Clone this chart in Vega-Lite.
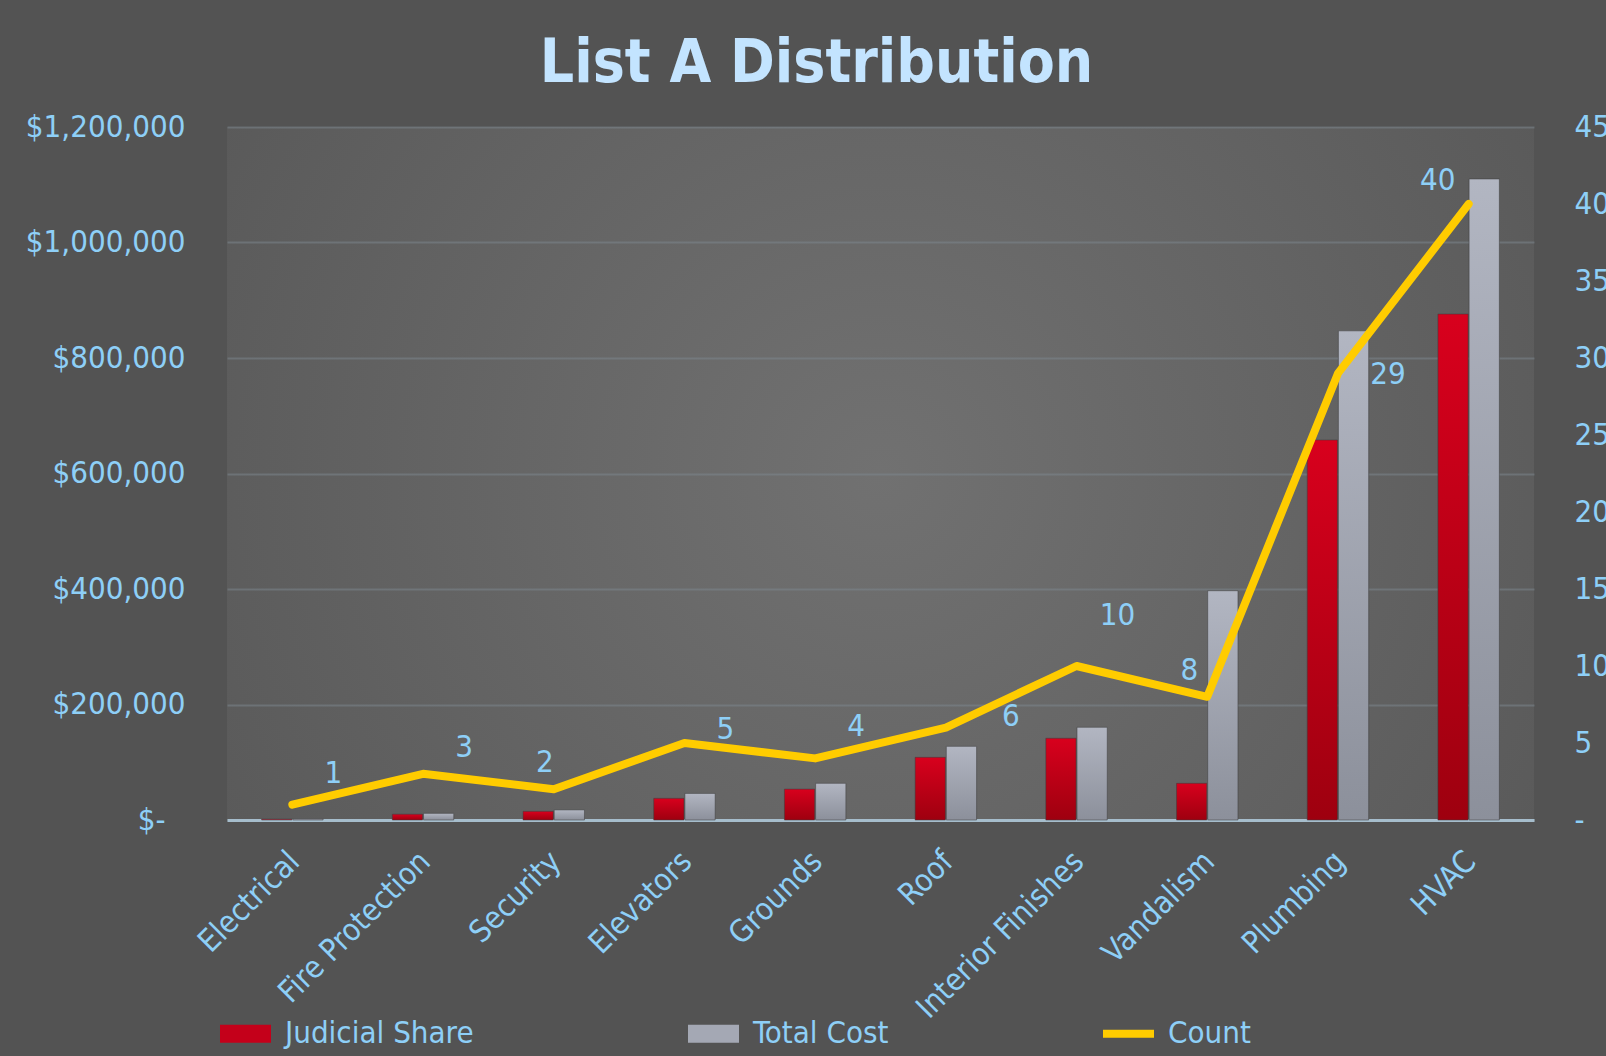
{
  "$schema": "https://vega.github.io/schema/vega-lite/v6.json",
  "width": 1307,
  "height": 693,
  "autosize": {"type": "none"},
  "padding": {"left": 227, "top": 127, "right": 72, "bottom": 236},
  "background": "#535353",
  "title": {
    "text": "List A Distribution",
    "font": "DejaVu Sans Condensed, Liberation Sans",
    "fontSize": 60,
    "fontWeight": "bold",
    "color": "#C3E4FF",
    "anchor": "middle",
    "baseline": "alphabetic",
    "dx": -64,
    "dy": 59,
    "offset": 28
  },
  "data": {
    "values": [
      {"Category": "Electrical", "Judicial Share": 1500, "Total Cost": 2000, "Count": 1},
      {"Category": "Fire Protection", "Judicial Share": 10000, "Total Cost": 11500, "Count": 3},
      {"Category": "Security", "Judicial Share": 15000, "Total Cost": 17500, "Count": 2},
      {"Category": "Elevators", "Judicial Share": 37500, "Total Cost": 46000, "Count": 5},
      {"Category": "Grounds", "Judicial Share": 53500, "Total Cost": 63500, "Count": 4},
      {"Category": "Roof", "Judicial Share": 108500, "Total Cost": 127500, "Count": 6},
      {"Category": "Interior Finishes", "Judicial Share": 141500, "Total Cost": 160500, "Count": 10},
      {"Category": "Vandalism", "Judicial Share": 63500, "Total Cost": 397000, "Count": 8},
      {"Category": "Plumbing", "Judicial Share": 658000, "Total Cost": 847000, "Count": 29},
      {"Category": "HVAC", "Judicial Share": 876000, "Total Cost": 1110000, "Count": 40}
    ]
  },
  "encoding": {
    "x": {
      "field": "Category",
      "type": "nominal",
      "sort": null,
      "scale": {"paddingInner": 0.53, "paddingOuter": 0.265},
      "axis": {
        "title": null,
        "labelAngle": -45,
        "labelFontSize": 31,
        "labelColor": "#8ECFF7",
        "labelPadding": 26,
        "labelOffset": -8,
        "ticks": false,
        "domainColor": "#A6BDCC",
        "domainWidth": 3,
        "grid": false,
        "labelLimit": 0
      }
    }
  },
  "layer": [
    {
      "transform": [
        {"fold": ["Judicial Share", "Total Cost"], "as": ["Series", "Amount"]}
      ],
      "encoding": {
        "xOffset": {
          "field": "Series",
          "type": "nominal",
          "scale": {"domain": ["Judicial Share", "Total Cost"], "paddingInner": 0.03}
        },
        "y": {
          "field": "Amount",
          "type": "quantitative",
          "scale": {"domain": [0, 1200000], "nice": false},
          "axis": {
            "orient": "left",
            "title": null,
            "values": [0, 200000, 400000, 600000, 800000, 1000000, 1200000],
            "labelExpr": "datum.value == 0 ? '$-' : '$' + format(datum.value, ',')",
            "labelFontSize": 31,
            "labelColor": "#8ECFF7",
            "labelPadding": {"condition": {"test": "datum.value == 0", "value": 62}, "value": 42},
            "ticks": false,
            "domain": false,
            "grid": true,
            "gridColor": "#7E8890",
            "gridOpacity": 0.5,
            "gridWidth": 2
          }
        }
      },
      "layer": [
        {
          "transform": [{"filter": "datum.Series == 'Judicial Share'"}],
          "mark": {
            "type": "bar",
            "stroke": "#3c3c3c",
            "strokeWidth": 1,
            "strokeOpacity": 0.5,
            "fill": {
              "gradient": "linear", "x1": 0, "y1": 0, "x2": 0, "y2": 1,
              "stops": [{"offset": 0, "color": "#D8001D"}, {"offset": 1, "color": "#9E000F"}]
            }
          }
        },
        {
          "transform": [{"filter": "datum.Series == 'Total Cost'"}],
          "mark": {
            "type": "bar",
            "stroke": "#3c3c3c",
            "strokeWidth": 1,
            "strokeOpacity": 0.5,
            "fill": {
              "gradient": "linear", "x1": 0, "y1": 0, "x2": 0, "y2": 1,
              "stops": [{"offset": 0, "color": "#B2B6C2"}, {"offset": 1, "color": "#8C909B"}]
            }
          }
        }
      ]
    },
    {
      "encoding": {
        "y": {
          "field": "Count",
          "type": "quantitative",
          "scale": {"domain": [0, 45], "nice": false},
          "axis": {
            "orient": "right",
            "title": null,
            "values": [0, 5, 10, 15, 20, 25, 30, 35, 40, 45],
            "labelExpr": "datum.value == 0 ? '-' : datum.label",
            "labelFontSize": 31,
            "labelColor": "#8ECFF7",
            "labelPadding": 40,
            "ticks": false,
            "domain": false,
            "grid": false
          }
        }
      },
      "layer": [
        {
          "mark": {"type": "line", "strokeWidth": 8, "strokeCap": "round", "strokeJoin": "round"},
          "encoding": {
            "color": {
              "datum": "Count",
              "type": "nominal",
              "scale": {
                "domain": ["Judicial Share", "Total Cost", "Count"],
                "range": ["#C4001A", "#A4A8B4", "#FFCC00"]
              },
              "legend": {
                "orient": "none",
                "legendX": -7,
                "legendY": 881,
                "direction": "horizontal",
                "columns": 3,
                "title": null,
                "padding": 0,
                "symbolSize": 2601,
                "symbolType": "M-1,-0.35H1V0.35H-1Z",
                "labelFontSize": 31,
                "labelColor": "#8ECFF7",
                "labelOffset": 14,
                "labelLimit": 0,
                "columnPadding": 214,
                "encode": {
                  "symbols": {
                    "update": {
                      "shape": {"signal": "datum.value == 'Count' ? 'M-1,-0.16H1V0.16H-1Z' : 'M-1,-0.35H1V0.35H-1Z'"},
                      "fill": {"scale": "color", "field": "value"},
                      "stroke": {"value": "transparent"},
                      "strokeWidth": {"value": 0}
                    }
                  }
                }
              }
            }
          }
        },
        {
          "mark": {
            "type": "text",
            "fontSize": 31,
            "color": "#8ECFF7",
            "align": "center",
            "baseline": "middle",
            "dx": {"expr": "datum.Category == 'Security' ? -9 : datum.Category == 'Roof' ? 65 : datum.Category == 'Vandalism' ? -18 : datum.Category == 'Plumbing' ? 50 : datum.Category == 'HVAC' ? -31 : 41"},
            "dy": {"expr": "datum.Category == 'Elevators' ? -13 : datum.Category == 'Roof' ? -11 : datum.Category == 'Interior Finishes' ? -50 : datum.Category == 'Plumbing' ? 2 : datum.Category == 'HVAC' ? -23 : datum.Category == 'Security' || datum.Category == 'Fire Protection' || datum.Category == 'Vandalism' ? -26 : -31"}
          },
          "encoding": {"text": {"field": "Count", "type": "quantitative"}}
        }
      ]
    }
  ],
  "resolve": {"scale": {"y": "independent"}},
  "config": {
    "font": "DejaVu Sans Condensed, Liberation Sans",
    "view": {
      "stroke": null,
      "fill": {
        "gradient": "radial", "x1": 0.5, "y1": 0.5, "x2": 0.5, "y2": 0.5, "r1": 0, "r2": 0.62,
        "stops": [{"offset": 0, "color": "#717171"}, {"offset": 1, "color": "#585858"}]
      }
    }
  }
}
